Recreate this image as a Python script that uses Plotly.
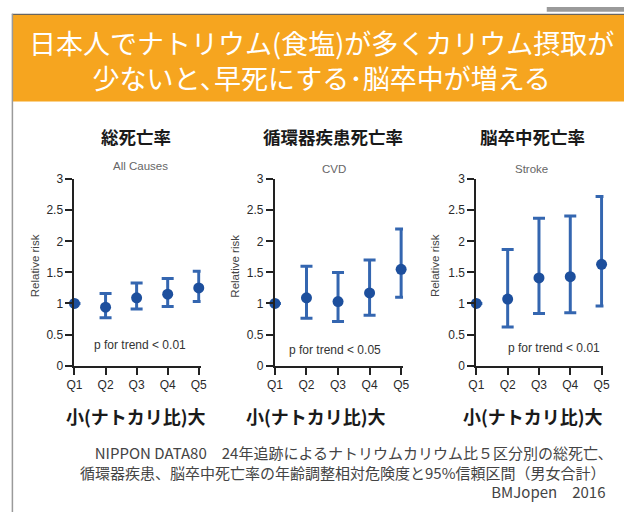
import plotly.graph_objects as go

W, H = 630, 519

# Quintiles of sodium/potassium ratio
quintiles = ["Q1", "Q2", "Q3", "Q4", "Q5"]

# Relative risk (age-adjusted) and 95% CI; Q1 is the reference group
all_rr = [1.00, 0.94, 1.09, 1.15, 1.25]
all_lo = [None, 0.77, 0.91, 0.95, 1.03]
all_hi = [None, 1.16, 1.33, 1.40, 1.52]

cvd_rr = [1.00, 1.09, 1.03, 1.17, 1.55]
cvd_lo = [None, 0.76, 0.71, 0.81, 1.10]
cvd_hi = [None, 1.60, 1.50, 1.70, 2.20]

stroke_rr = [1.00, 1.07, 1.41, 1.43, 1.63]
stroke_lo = [None, 0.62, 0.84, 0.85, 0.96]
stroke_hi = [None, 1.87, 2.37, 2.41, 2.72]

panel_titles = ["総死亡率", "循環器疾患死亡率", "脳卒中死亡率"]
panel_subtitles = ["All Causes", "CVD", "Stroke"]
p_trend = ["p for trend < 0.01", "p for trend < 0.05", "p for trend < 0.01"]
x_caption = "小(ナトカリ比)大"
y_tick_vals = [0, 0.5, 1, 1.5, 2, 2.5, 3]

headline = ["日本人でナトリウム(食塩)が多くカリウム摂取が",
            "少ないと､早死にする･脳卒中が増える"]
footnote = ["NIPPON DATA80　24年追跡によるナトリウムカリウム比５区分別の総死亡､",
            "循環器疾患、脳卒中死亡率の年齢調整相対危険度と95%信頼区間（男女合計）",
            "BMJopen　2016"]

series = [(all_rr, all_lo, all_hi), (cvd_rr, cvd_lo, cvd_hi), (stroke_rr, stroke_lo, stroke_hi)]

JP = "Noto Sans CJK JP"
SANS = "Liberation Sans, Arial, sans-serif"
MARK = "#1d4f9d"
BAR = "#3466b0"
AXC = "#222222"


def px(x):
    return x / W


def py(y):
    return 1 - y / H


# pixel layout of each panel: (left edge, right edge)
x_spans = [(68, 197), (273, 404), (479, 609)]
y_bottom, y_top = 368.5, 177
centers = [131, 332, 536]
sub_x = [135, 333, 535]
sub_y = [163, 167, 167]
p_pos = [(135, 347), (334, 352), (558, 350)]
rr_x = [27, 232, 437]
cap_x = [131, 315, 537]

fig = go.Figure()
annotations = []
layout_axes = {}

for i, (rr, lo, hi) in enumerate(series):
    n = "" if i == 0 else str(i + 1)
    err_p = [None if h is None else h - v for v, h in zip(rr, hi)]
    err_m = [None if l is None else v - l for v, l in zip(rr, lo)]
    fig.add_trace(go.Scatter(
        x=quintiles, y=rr, mode="markers",
        xaxis="x" + n, yaxis="y" + n,
        marker=dict(color=MARK, size=11),
        error_y=dict(type="data", symmetric=False, array=err_p, arrayminus=err_m,
                     color=BAR, thickness=3, width=6),
        cliponaxis=False, showlegend=False, hoverinfo="skip",
    ))
    x0, x1 = x_spans[i]
    tick_style = dict(
        showgrid=False, zeroline=False,
        showline=True, linecolor=AXC, linewidth=2,
        ticks="outside", ticklen=7, tickwidth=1.5, tickcolor=AXC,
        tickfont=dict(family=SANS, size=12, color="#2a2a2a"),
        fixedrange=True,
    )
    layout_axes["xaxis" + n] = dict(
        domain=[px(x0), px(x1)], anchor="y" + n, type="category",
        range=[0, 4.06], **tick_style)
    layout_axes["yaxis" + n] = dict(
        domain=[py(y_bottom), py(y_top)], anchor="x" + n,
        range=[0, 3], tickvals=y_tick_vals, **tick_style)
    annotations += [
        dict(text=panel_titles[i], x=px(centers[i]), y=py(133),
             font=dict(family=JP, size=17.5, color="#1a1a1a", weight="bold")),
        dict(text=panel_subtitles[i], x=px(sub_x[i]), y=py(sub_y[i]),
             font=dict(family=SANS, size=11.5, color="#666666")),
        dict(text="Relative risk", x=px(rr_x[i]), y=py(266), textangle=-90,
             font=dict(family=SANS, size=11.5, color="#444444")),
        dict(text=p_trend[i], x=px(p_pos[i][0]), y=py(p_pos[i][1]),
             font=dict(family=SANS, size=12, color="#333333")),
        dict(text=x_caption, x=px(cap_x[i]), y=py(420),
             font=dict(family=JP, size=18, color="#1a1a1a", weight="bold")),
    ]

# two-line headline in the banner
annotations.append(dict(text="<br>".join(headline), x=px(321), y=py(54.5), align="center",
                        font=dict(family=JP, size=27, color="white")))

# source note, right-aligned block
annotations.append(dict(text="<br>".join(footnote), x=px(613), y=py(477.5),
                        xanchor="right", align="right",
                        font=dict(family=JP, size=15, color="#444444")))

for a in annotations:
    a.update(xref="paper", yref="paper", showarrow=False)
    a.setdefault("xanchor", "center")
    a.setdefault("yanchor", "middle")

shapes = [
    # orange headline banner
    dict(type="rect", x0=px(5), x1=1, y0=py(97), y1=py(8), fillcolor="#F6A51F",
         line=dict(width=0), layer="below"),
    # frame lines
    dict(type="line", x0=px(4), x1=1, y0=py(7.5), y1=py(7.5), line=dict(color="#444444", width=1)),
    dict(type="line", x0=px(4.5), x1=px(4.5), y0=py(7), y1=0, line=dict(color="#9a9a9a", width=1.5)),
    dict(type="rect", x0=px(551), x1=1, y0=py(5), y1=1, fillcolor="#9a9a9a",
         line=dict(width=0), layer="below"),
]
for s in shapes:
    s.update(xref="paper", yref="paper")

fig.update_layout(
    width=W, height=H, margin=dict(l=0, r=0, t=0, b=0),
    paper_bgcolor="white", plot_bgcolor="white",
    annotations=annotations, shapes=shapes,
    **layout_axes,
)

fig.write_html("out.html", config={"displayModeBar": False})
